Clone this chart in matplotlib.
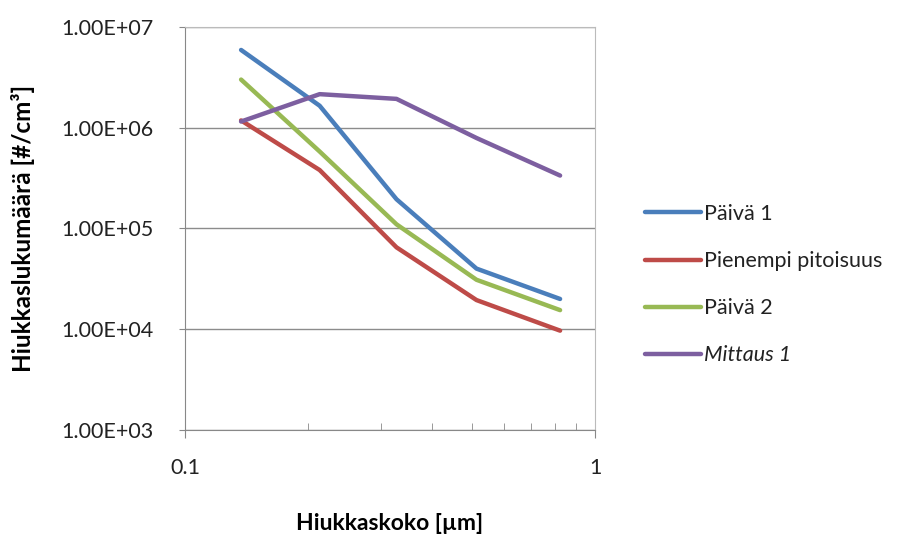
import matplotlib.pyplot as plt
from matplotlib.ticker import FixedLocator, LogLocator, NullFormatter

# particle size classes [um] and number concentrations [#/cm3]
sizes = [0.137, 0.213, 0.328, 0.514, 0.822]
paiva1 = [5.9e6, 1.65e6, 1.95e5, 4.0e4, 2.0e4]
pienempi = [1.18e6, 3.8e5, 6.5e4, 1.95e4, 9.7e3]
paiva2 = [3.0e6, 5.8e5, 1.1e5, 3.1e4, 1.55e4]
mittaus1 = [1.15e6, 2.15e6, 1.93e6, 7.9e5, 3.35e5]

series = [
    ("Päivä 1", paiva1, "#4a7ebb", "normal"),
    ("Pienempi pitoisuus", pienempi, "#be4b48", "normal"),
    ("Päivä 2", paiva2, "#98b954", "normal"),
    ("Mittaus 1", mittaus1, "#7d5fa0", "italic"),
]
y_ticks = [1e3, 1e4, 1e5, 1e6, 1e7]
y_labels = ["1.00E+03", "1.00E+04", "1.00E+05", "1.00E+06", "1.00E+07"]

plt.rcParams['font.family'] = ['Lato', 'DejaVu Sans']
fs = 15.5

fig = plt.figure(figsize=(9.07, 5.37), dpi=100)
ax = fig.add_axes([0.204, 0.199, 0.452, 0.751])

for name, vals, color, style in series:
    ax.plot(sizes, vals, color=color, lw=3.2, solid_capstyle='round',
            solid_joinstyle='round', label=name)

ax.set_xscale('log')
ax.set_yscale('log')
ax.set_xlim(0.1, 1)
ax.set_ylim(1e3, 1e7)

ax.yaxis.set_major_locator(FixedLocator(y_ticks))
ax.set_yticklabels(y_labels)
ax.yaxis.set_minor_formatter(NullFormatter())
ax.tick_params(axis='y', which='minor', left=False)
ax.tick_params(axis='y', which='major', direction='out', length=4,
               color='#888888', labelsize=fs, pad=19, labelcolor='#222222')

ax.xaxis.set_major_locator(FixedLocator([0.1, 1]))
ax.set_xticklabels(["0.1", "1"])
ax.xaxis.set_minor_locator(LogLocator(base=10, subs=range(2, 10)))
ax.xaxis.set_minor_formatter(NullFormatter())
ax.tick_params(axis='x', which='major', direction='out', length=6,
               color='#888888', labelsize=fs, pad=14, labelcolor='#222222')
ax.tick_params(axis='x', which='minor', direction='in', length=5,
               color='#888888')

ax.grid(axis='y', which='major', color='#8c8c8c', lw=1)
ax.set_axisbelow(True)
for side in ['left', 'bottom']:
    ax.spines[side].set_color('#888888')
for side in ['top', 'right']:
    ax.spines[side].set_color('#bbbbbb')

ax.set_xlabel("Hiukkaskoko [µm]", fontsize=16.5, fontweight='bold')
ax.xaxis.set_label_coords(0.5, -0.205)
ax.set_ylabel("Hiukkaslukumäärä [#/cm³]", fontsize=17.5, fontweight='bold')
ax.yaxis.set_label_coords(-0.365, 0.5)

leg = fig.legend(loc='center left', bbox_to_anchor=(0.690, 0.470),
                 frameon=False, fontsize=fs, handlelength=2.6,
                 handletextpad=0.15, labelspacing=1.26)
for text, (_, _, _, style) in zip(leg.get_texts(), series):
    text.set_fontstyle(style)
    text.set_color('#222222')

fig.savefig('out.png', dpi=100)
